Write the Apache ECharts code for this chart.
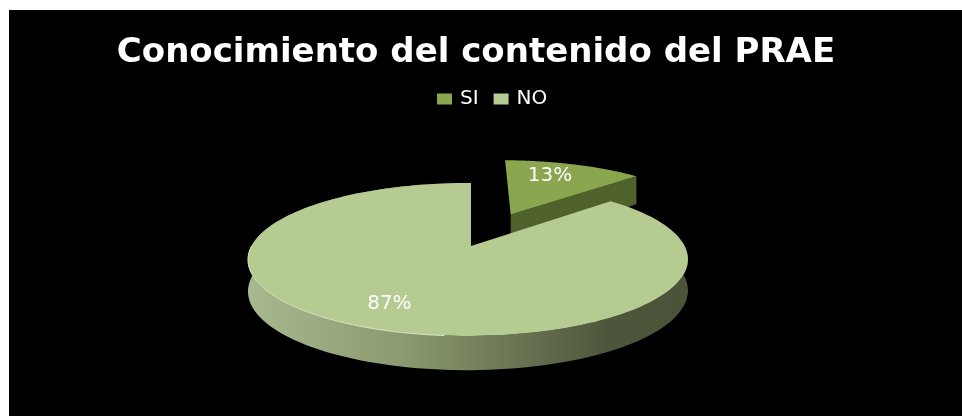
<!DOCTYPE html>
<html><head><meta charset="utf-8">
<script src="https://cdn.jsdelivr.net/npm/echarts@6/dist/echarts.min.js"></script>
<style>html,body{margin:0;padding:0;background:#fff}#c{width:962px;height:416px}</style>
</head><body><div id="c"></div>
<script>
const titleText = 'Conocimiento del contenido del PRAE';
const categories = ['SI', 'NO'];
const values = [13, 87];
const labels = ['13%', '87%'];

const topColors = ['#8AA64E', '#B5CB91'];
const total = values.reduce((a, b) => a + b, 0);

// Perspective view of a tilted disc
const view = { x: 471, y: 246, sx: 216.5, sy: 74.1, kv: -0.1765, ku: 0.0136, h: 31 };
function project(u, v, depth) {
  const w = 1 + view.kv * v + view.ku * u;
  return [view.x + view.sx * u / w, view.y + view.sy * v / w + (depth ? view.h / Math.sqrt(w) : 0)];
}
const explode = [0.5, 0];        // SI slice pulled out by half a radius
const labelAt = [[0.243, -0.694], [-0.33, 0.68]]; // label anchor in disc units

function renderSlice(idx) {
  return function (params, api) {
    const val = api.value(0);
    const before = values.slice(0, idx).reduce((a, b) => a + b, 0);
    const a0 = before / total * 2 * Math.PI, a1 = (before + val) / total * 2 * Math.PI;
    const mid = (a0 + a1) / 2, d = explode[idx];
    const ox = d * Math.sin(mid), oy = -d * Math.cos(mid);
    const n = 160, top = [], bottom = [], frontEdge = [];
    for (let i = 0; i <= n; i++) {
      const a = a0 + (a1 - a0) * i / n;
      const u = ox + Math.sin(a), v = oy - Math.cos(a);
      top.push(project(u, v, false));
      bottom.push(project(u, v, true));
      if (a > Math.PI * 1.03 && a < Math.PI * 1.5) frontEdge.push(project(u, v, false));
    }
    const apex = project(ox, oy, false), apexLow = project(ox, oy, true);
    const children = [];
    if (idx === 1) {
      children.push({
        type: 'polygon', shape: { points: top.concat(bottom.slice().reverse()) },
        style: { fill: new echarts.graphic.LinearGradient(0, 0, 1, 0, [
          { offset: 0, color: '#A9B98F' }, { offset: 0.35, color: '#8B9A70' },
          { offset: 0.6, color: '#6B7654' }, { offset: 0.82, color: '#4D563A' }, { offset: 1, color: '#4B5338' }
        ]) }
      });
    } else {
      const end = top[top.length - 1], endLow = bottom[bottom.length - 1];
      children.push({
        type: 'polygon', shape: { points: [apex, end, endLow, apexLow] },
        style: { fill: '#50622C' }
      });
    }
    children.push({
      type: 'polygon', shape: { points: [apex].concat(top) },
      style: { fill: topColors[idx] }
    });
    if (idx === 1) {
      children.push({ type: 'polyline', shape: { points: frontEdge },
        style: { stroke: '#DCE9C4', lineWidth: 1, fill: null } });
    }
    const p = project(labelAt[idx][0] + ox, labelAt[idx][1] + oy, false);
    children.push({
      type: 'text', x: p[0], y: p[1],
      style: { text: labels[idx], fill: '#fff', font: '20px "DejaVu Sans"', align: 'center', verticalAlign: 'middle' }
    });
    return { type: 'group', children };
  };
}

const chart = echarts.init(document.getElementById('c'), null, { renderer: 'canvas' });
chart.setOption({
  animation: false,
  backgroundColor: '#fff',
  title: { text: titleText, left: 476, top: 31, textAlign: 'center',
    textStyle: { color: '#fff', fontFamily: 'DejaVu Sans', fontWeight: 'bold', fontSize: 34 } },
  legend: { data: categories, left: 432, top: 84, itemWidth: 15, itemHeight: 11, itemGap: 15, icon: 'rect',
    textStyle: { color: '#fff', fontFamily: 'DejaVu Sans', fontSize: 20, padding: [0, 0, 0, 3] } },
  graphic: [{ type: 'rect', z: -10, shape: { x: 9, y: 10, width: 953, height: 406 }, style: { fill: '#000' } }],
  series: categories.map((name, i) => ({
    type: 'custom', name, coordinateSystem: 'none', silent: true, z: 2 + i,
    itemStyle: { color: topColors[i] },
    data: [[values[i]]],
    renderItem: renderSlice(i)
  }))
}, true);
chart.setOption({ title: { left: 471 } });
</script></body></html>
